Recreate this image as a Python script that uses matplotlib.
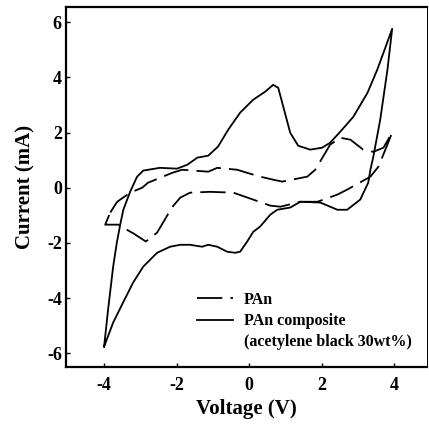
import matplotlib
matplotlib.use("Agg")
import matplotlib.pyplot as plt
from matplotlib.lines import Line2D

plt.rcParams['font.family'] = ['Liberation Serif', 'DejaVu Serif']
plt.rcParams['font.weight'] = 'bold'
plt.rcParams['axes.unicode_minus'] = False

# composite loop: anodic sweep -4 -> 4, then cathodic 4 -> -4
comp_v = [-4.0, -3.89, -3.75, -3.65, -3.55, -3.47, -3.28, -3.09, -2.92, -2.46, -1.99, -1.71,
          -1.43, -1.13, -0.86, -0.58, -0.25, 0.11, 0.44, 0.66, 0.8, 0.94, 1.13, 1.35,
          1.68, 2.01, 2.23, 2.51, 2.87, 3.26, 3.53, 3.75, 3.94,
          3.81, 3.61, 3.42, 3.34, 3.28, 3.06, 2.7, 2.43, 1.96, 1.41, 1.13, 0.77, 0.58,
          0.3, 0.11, -0.06, -0.25, -0.39, -0.61, -0.88, -1.13, -1.3, -1.63, -1.9, -2.18,
          -2.54, -2.92, -3.2, -3.48, -3.75, -4.0]
comp_i = [-5.76, -4.42, -2.86, -2.0, -1.3, -0.8, -0.14, 0.4, 0.62, 0.72, 0.69, 0.83,
          1.09, 1.16, 1.49, 2.1, 2.72, 3.19, 3.48, 3.73, 3.62, 2.93, 1.99, 1.52,
          1.38, 1.45, 1.63, 2.03, 2.57, 3.44, 4.28, 5.07, 5.76,
          4.28, 2.46, 1.12, 0.65, 0.18, -0.43, -0.8, -0.8, -0.54, -0.51, -0.72, -0.8, -0.98,
          -1.41, -1.6, -1.96, -2.32, -2.36, -2.32, -2.14, -2.07, -2.14, -2.07, -2.07, -2.14,
          -2.36, -2.86, -3.44, -4.17, -4.89, -5.76]

# PAn loop
pan_v = [-3.83, -3.64, -3.28, -2.95, -2.79, -2.12, -1.85, -1.13, -0.88, -0.33, -0.06, 0.3,
         0.66, 0.91, 1.6, 1.82, 2.23, 2.51, 2.79, 3.14, 3.42, 3.7, 3.94,
         3.83, 3.56, 3.34, 2.7, 2.43, 1.88, 1.41, 0.86, 0.58, -0.11, -0.44, -1.08, -1.63,
         -1.9, -2.12, -2.54, -2.85, -3.2, -3.53, -3.6, -3.97, -3.83]
pan_i = [-0.9, -0.51, -0.18, 0.0, 0.18, 0.54, 0.65, 0.58, 0.72, 0.65, 0.54, 0.4,
         0.29, 0.22, 0.4, 0.65, 1.56, 1.81, 1.74, 1.38, 1.3, 1.45, 2.0,
         1.63, 0.76, 0.4, -0.07, -0.25, -0.51, -0.51, -0.69, -0.65, -0.33, -0.18, -0.15, -0.18,
         -0.36, -0.7, -1.63, -1.95, -1.65, -1.41, -1.34, -1.34, -0.9]

x_ticks = [-4, -2, 0, 2, 4]
y_ticks = [-6, -4, -2, 0, 2, 4, 6]

fig = plt.figure(figsize=(4.29, 4.26), dpi=100)
ax = fig.add_axes([66 / 429, 1 - 367 / 426, 361 / 429, 360 / 426])

l_pan, = ax.plot(pan_v, pan_i, color='black', lw=1.3, dashes=(14, 4.5))
l_comp, = ax.plot(comp_v, comp_i, color='black', lw=1.3)

ax.set_xlim(-5.05, 4.9)
ax.set_ylim(-6.5, 6.55)
ax.set_xticks(x_ticks)
ax.set_yticks(y_ticks)
ax.tick_params(direction='in', length=3, width=1, labelsize=13, pad=3)
ax.tick_params(axis='x', pad=7)
for side in ['left', 'bottom', 'top']:
    ax.spines[side].set_linewidth(1.6)
ax.spines['right'].set_linewidth(0.7)

ax.set_xlabel('Voltage (V)', fontsize=15, fontweight='bold', labelpad=4)
ax.set_ylabel('Current (mA)', fontsize=15, fontweight='bold', labelpad=8)

blank = Line2D([], [], color='none')
ax.legend([l_pan, l_comp, blank], ['PAn', 'PAn composite', '(acetylene black 30wt%)'],
          loc='upper left', bbox_to_anchor=(197 / 429, 1 - 292 / 426),
          bbox_transform=fig.transFigure, frameon=False, fontsize=11.5,
          handlelength=2.25, handletextpad=0.7, labelspacing=0.32, borderpad=0,
          borderaxespad=0)

fig.savefig('out.png', dpi=100)
